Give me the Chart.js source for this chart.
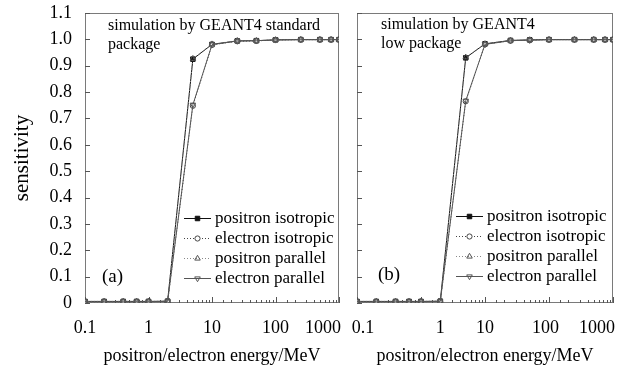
<!DOCTYPE html>
<html>
<head>
<meta charset="utf-8">
<script src="https://cdn.jsdelivr.net/npm/chart.js@4.4.0/dist/chart.umd.min.js"></script>
<style>
body { margin: 0; background: #fff; }
#wrap { position: relative; width: 636px; height: 370px; }
.panel { position: absolute; top: 0; height: 370px; }
#pa { left: 0; width: 345px; }
#pb { left: 345px; width: 291px; }
</style>
</head>
<body>
<div id="wrap">
  <div class="panel" id="pa"><canvas id="chartA"></canvas></div>
  <div class="panel" id="pb"><canvas id="chartB"></canvas></div>
</div>
<script>
// Energias (MeV)
const energias = [0.1, 0.2, 0.4, 0.65, 1, 2, 5, 10, 25, 50, 100, 250, 500, 750, 1000];
const nomesSeries = ['positron isotropic', 'electron isotropic', 'positron parallel', 'electron parallel'];

// (a) GEANT4 standard package
const posIsoA = [0.006, 0.006, 0.006, 0.006, 0.006, 0.007, 0.925, 0.981, 0.994, 0.995, 0.998, 0.999, 0.999, 0.999, 0.999];
const eleIsoA = [0.005, 0.005, 0.005, 0.005, 0.005, 0.006, 0.748, 0.979, 0.993, 0.994, 0.998, 0.999, 0.999, 0.999, 0.999];
const posParA = [0.006, 0.006, 0.006, 0.006, 0.006, 0.007, 0.927, 0.982, 0.995, 0.995, 0.998, 0.999, 0.999, 0.999, 0.999];
const eleParA = [0.005, 0.005, 0.005, 0.005, 0.005, 0.006, 0.752, 0.980, 0.994, 0.995, 0.998, 0.999, 0.999, 0.999, 0.999];

// (b) GEANT4 low package
const posIsoB = [0.006, 0.006, 0.006, 0.006, 0.006, 0.007, 0.930, 0.983, 0.996, 0.998, 0.999, 0.999, 0.999, 0.999, 0.999];
const eleIsoB = [0.005, 0.005, 0.005, 0.005, 0.005, 0.006, 0.765, 0.981, 0.995, 0.997, 0.999, 0.999, 0.999, 0.999, 0.999];
const posParB = [0.006, 0.006, 0.006, 0.006, 0.006, 0.007, 0.932, 0.983, 0.996, 0.998, 0.999, 0.999, 0.999, 0.999, 0.999];
const eleParB = [0.005, 0.005, 0.005, 0.005, 0.005, 0.006, 0.767, 0.981, 0.995, 0.997, 0.999, 0.999, 0.999, 0.999, 0.999];

// rotulos do eixo x (onde aparecem na figura original)
const xTickTexto = ['0.1', '1', '10', '100', '1000'];
const xTickValA = [0.1, 1, 10, 100, 560];
const xTickValB = [0.124, 2, 10, 88, 560];

const fonteSerif = "'Liberation Serif', 'Times New Roman', serif";

// estilos das series
const estilos = [
    { borderColor: '#111', borderDash: [], pointStyle: 'rect', rotation: 0, pointBackgroundColor: '#111', pointBorderColor: '#111', radius: 3.2, order: 4 },
    { borderColor: '#444', borderDash: [1, 2], pointStyle: 'circle', rotation: 0, pointBackgroundColor: '#fff', pointBorderColor: '#444', radius: 2.6, order: 3 },
    { borderColor: '#888', borderDash: [1, 2], pointStyle: 'triangle', rotation: 0, pointBackgroundColor: 'rgba(255,255,255,0)', pointBorderColor: '#555', radius: 3.2, order: 2 },
    { borderColor: '#555', borderDash: [], pointStyle: 'triangle', rotation: 180, pointBackgroundColor: 'rgba(255,255,255,0)', pointBorderColor: '#555', radius: 3.2, order: 1 }
];

function montarDatasets(listas) {
    return listas.map((vals, i) => {
        const e = estilos[i];
        return {
            label: nomesSeries[i],
            data: energias.map((en, k) => ({ x: en, y: vals[k] })),
            borderColor: e.borderColor,
            borderDash: e.borderDash,
            borderWidth: 1,
            pointStyle: e.pointStyle,
            pointRotation: e.rotation,
            pointRadius: e.radius,
            pointBorderWidth: 1,
            pointBackgroundColor: e.pointBackgroundColor,
            pointBorderColor: e.pointBorderColor,
            tension: 0,
            fill: false,
            order: e.order
        };
    });
}

// caixa, marcas internas, textos e legenda
const extrasPainel = {
    id: 'extrasPainel',
    beforeDatasetsDraw(chart) {
        const { ctx, chartArea: ca, scales: { x, y } } = chart;
        ctx.save();
        ctx.strokeStyle = '#7a7a7a';
        ctx.lineWidth = 1;
        ctx.strokeRect(ca.left + 0.5, ca.top + 0.5, ca.right - ca.left - 1, ca.bottom - ca.top - 1);
        ctx.strokeStyle = '#555';
        ctx.beginPath();
        (x._minorValues || []).forEach(v => {
            const px = Math.round(x.getPixelForValue(v)) + 0.5;
            const lg = Math.log10(v);
            const len = Math.abs(lg - Math.round(lg)) < 1e-6 ? 6 : 3;
            ctx.moveTo(px, ca.bottom);
            ctx.lineTo(px, ca.bottom - len);
        });
        y.ticks.forEach(t => {
            const py = Math.round(y.getPixelForValue(t.value)) + 0.5;
            ctx.moveTo(ca.left, py);
            ctx.lineTo(ca.left + 5, py);
        });
        ctx.stroke();
        ctx.restore();
    },
    afterDraw(chart, args, opts) {
        const { ctx, chartArea: ca } = chart;
        ctx.save();
        ctx.fillStyle = '#000';
        ctx.textAlign = 'left';
        ctx.textBaseline = 'alphabetic';
        ctx.font = '16px ' + fonteSerif;
        opts.nota.forEach((linha, i) => {
            ctx.fillText(linha, ca.left + opts.notaX, ca.top + opts.notaY + i * 19);
        });
        ctx.font = '19px ' + fonteSerif;
        ctx.textBaseline = 'middle';
        ctx.fillText(opts.marca, ca.left + opts.marcaX, ca.top + opts.marcaY);

        // legenda
        ctx.font = '17px ' + fonteSerif;
        const tx = ca.right - opts.legX;
        chart.data.datasets.forEach((ds, i) => {
            const ly = Math.round(ca.top + opts.legY + i * 20) + 0.5;
            ctx.strokeStyle = ds.borderColor;
            ctx.lineWidth = 1;
            ctx.setLineDash(ds.borderDash);
            ctx.beginPath();
            ctx.moveTo(tx - 31, ly);
            ctx.lineTo(tx - 4, ly);
            ctx.stroke();
            ctx.setLineDash([]);
            ctx.fillStyle = ds.pointBackgroundColor;
            ctx.strokeStyle = ds.pointBorderColor;
            if (Chart.helpers && Chart.helpers.drawPoint) {
                Chart.helpers.drawPoint(ctx, { pointStyle: ds.pointStyle, rotation: ds.pointRotation, radius: ds.pointRadius, borderWidth: 1 }, tx - 17.5, ly);
            }
            ctx.fillStyle = '#000';
            ctx.fillText(ds.label, tx, ly);
        });
        ctx.restore();
    }
};

function criarPainel(canvasId, listas, cfg) {
    const canvas = document.getElementById(canvasId);
    if (!canvas) return;
    try {
        return new Chart(canvas, {
            type: 'line',
            data: { datasets: montarDatasets(listas) },
            options: {
                responsive: true,
                maintainAspectRatio: false,
                animation: false,
                layout: { padding: { left: 0, right: cfg.padRight, top: 13, bottom: 0 } },
                plugins: {
                    legend: { display: false },
                    tooltip: { enabled: false },
                    extrasPainel: cfg.extras
                },
                scales: {
                    x: {
                        type: 'logarithmic',
                        min: 0.1,
                        max: 1000,
                        grid: { display: false, drawTicks: false },
                        border: { display: false },
                        ticks: {
                            autoSkip: false,
                            maxRotation: 0,
                            padding: 14,
                            color: '#000',
                            font: { family: fonteSerif, size: 18 },
                            callback: function(value, index) {
                                return xTickTexto[index];
                            }
                        },
                        title: {
                            display: true,
                            text: 'positron/electron energy/MeV',
                            color: '#000',
                            font: { family: fonteSerif, size: 18 },
                            padding: { top: 0, bottom: 3 }
                        },
                        afterBuildTicks: function(scale) {
                            scale._minorValues = scale.ticks.map(t => t.value);
                            scale.ticks = cfg.xTickVal.map(v => ({ value: v }));
                        },
                        afterFit: function(scale) {
                            scale.height = 67;
                            scale.paddingLeft = 0;
                            scale.paddingRight = 0;
                        }
                    },
                    y: {
                        min: 0,
                        max: 1.1,
                        grid: { display: false, drawTicks: false },
                        border: { display: false },
                        ticks: {
                            display: cfg.yLabels,
                            stepSize: 0.1,
                            padding: 13,
                            color: '#000',
                            font: { family: fonteSerif, size: 18 },
                            callback: function(value) {
                                return value === 0 ? '0' : value.toFixed(1);
                            }
                        },
                        title: {
                            display: cfg.yLabels,
                            text: 'sensitivity',
                            color: '#000',
                            font: { family: fonteSerif, size: 21 },
                            padding: { top: 10, bottom: 0 }
                        },
                        afterFit: function(scale) {
                            scale.width = cfg.yWidth;
                            scale.paddingTop = 0;
                            scale.paddingBottom = 0;
                        }
                    }
                }
            },
            plugins: [extrasPainel]
        });
    } catch (error) {
        console.error('Erro no painel ' + canvasId, error);
    }
}

criarPainel('chartA', [posIsoA, eleIsoA, posParA, eleParA], {
    padRight: 6, yWidth: 85, yLabels: true, xTickVal: xTickValA,
    extras: { nota: ['simulation by GEANT4 standard', 'package'], notaX: 23, notaY: 17,
              marca: '(a)', marcaX: 17, marcaY: 264, legX: 124, legY: 205 }
});

criarPainel('chartB', [posIsoB, eleIsoB, posParB, eleParB], {
    padRight: 23, yWidth: 12, yLabels: false, xTickVal: xTickValB,
    extras: { nota: ['simulation by GEANT4', 'low package'], notaX: 24, notaY: 16,
              marca: '(b)', marcaX: 21, marcaY: 262, legX: 126, legY: 203 }
});
</script>
</body>
</html>
